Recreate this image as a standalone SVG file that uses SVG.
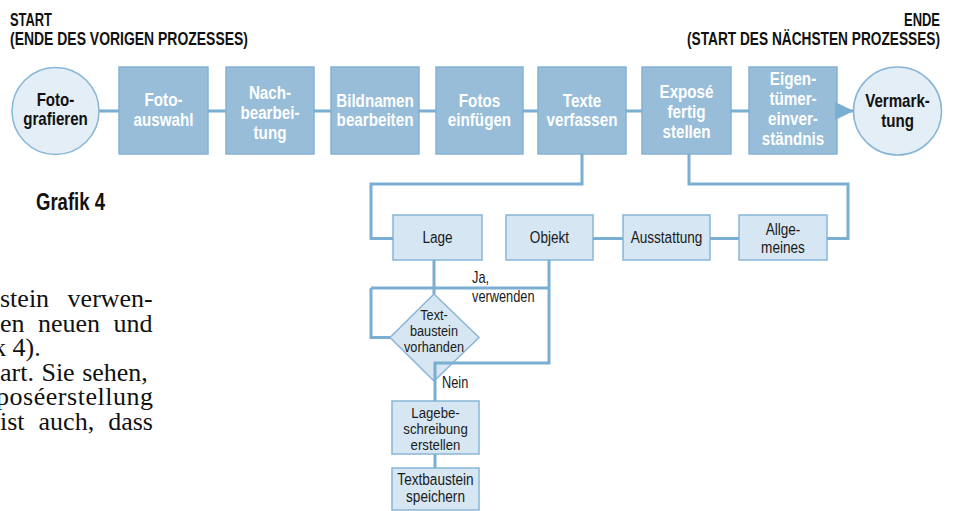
<svg xmlns="http://www.w3.org/2000/svg" width="958" height="511" viewBox="0 0 958 511">
<style>
.top{fill:#97bdd9;stroke:#85b2d3;stroke-width:1.5}
.low{fill:#d6e6f2;stroke:#88b6d6;stroke-width:1.5}
.circ{fill:#e4eef7;stroke:#88b6d6;stroke-width:1.5}
.con{fill:none;stroke:#7aaed3;stroke-width:3}
.tw{font-family:"Liberation Sans",Arial,sans-serif;font-weight:bold;font-size:19px;fill:#ffffff;text-anchor:middle}
.tb{font-family:"Liberation Sans",Arial,sans-serif;font-weight:bold;font-size:18px;fill:#111111;text-anchor:middle}
.tl{font-family:"Liberation Sans",Arial,sans-serif;font-size:17px;fill:#1a1a1a;text-anchor:middle}
.tm{font-family:"Liberation Sans",Arial,sans-serif;font-size:15.5px;fill:#1a1a1a;text-anchor:middle}
.ts{font-family:"Liberation Sans",Arial,sans-serif;font-size:16px;fill:#1a1a1a}
.hd{font-family:"Liberation Sans",Arial,sans-serif;font-weight:bold;font-size:19px;fill:#111111}
.body{font-family:"Liberation Serif","Times New Roman",serif;font-size:26px;fill:#111111}
</style>
<defs>
<marker id="arr" markerUnits="userSpaceOnUse" markerWidth="20" markerHeight="18" refX="19" refY="9" orient="auto">
<path d="M0,0 L19,9 L0,18 Z" fill="#7aaed3"/>
</marker>
</defs>

<g id="header">
<text class="hd" x="10" y="26" textLength="42" lengthAdjust="spacingAndGlyphs">START</text>
<text class="hd" x="10" y="45" textLength="238" lengthAdjust="spacingAndGlyphs">(ENDE DES VORIGEN PROZESSES)</text>
<text class="hd" x="904" y="26" textLength="36" lengthAdjust="spacingAndGlyphs">ENDE</text>
<text class="hd" x="687" y="45" textLength="253" lengthAdjust="spacingAndGlyphs">(START DES NÄCHSTEN PROZESSES)</text>
<text class="hd" x="36" y="210" style="font-size:24px" textLength="69" lengthAdjust="spacingAndGlyphs">Grafik 4</text>
</g>

<g id="bodytext">
<text class="body" x="0" y="307" style="word-spacing:12px">stein verwen-</text>
<text class="body" x="0" y="331.5" style="word-spacing:7px">en neuen und</text>
<text class="body" x="-7" y="356">k 4).</text>
<text class="body" x="0" y="380.5" style="word-spacing:1px">art. Sie sehen,</text>
<text class="body" x="-4" y="405" textLength="157" lengthAdjust="spacing">poséerstellung</text>
<text class="body" x="0" y="429.5" style="word-spacing:7.5px">ist auch, dass</text>
</g>

<g id="n-fotografieren">
<circle class="circ" cx="55.5" cy="111" r="43.5"/>
<text class="tb" transform="translate(55.5,0) scale(0.84,1)"><tspan x="0" y="106">Foto-</tspan><tspan x="0" y="125">grafieren</tspan></text>
</g>
<g id="n-fotoauswahl">
<rect class="top" x="119" y="67" width="89" height="87"/>
<text class="tw" transform="translate(163.5,0) scale(0.8,1)"><tspan x="0" y="106">Foto-</tspan><tspan x="0" y="126">auswahl</tspan></text>
</g>
<g id="n-nachbearbeitung">
<rect class="top" x="226" y="67" width="88" height="87"/>
<text class="tw" transform="translate(270,0) scale(0.8,1)"><tspan x="0" y="99">Nach-</tspan><tspan x="0" y="119">bearbei-</tspan><tspan x="0" y="139">tung</tspan></text>
</g>
<g id="n-bildnamen">
<rect class="top" x="331" y="67" width="88" height="87"/>
<text class="tw" transform="translate(375,0) scale(0.8,1)"><tspan x="0" y="107">Bildnamen</tspan><tspan x="0" y="126">bearbeiten</tspan></text>
</g>
<g id="n-fotoseinfuegen">
<rect class="top" x="436" y="67" width="87" height="87"/>
<text class="tw" transform="translate(479.5,0) scale(0.8,1)"><tspan x="0" y="107">Fotos</tspan><tspan x="0" y="126">einfügen</tspan></text>
</g>
<g id="n-texteverfassen">
<rect class="top" x="538" y="67" width="88" height="87"/>
<text class="tw" transform="translate(582,0) scale(0.8,1)"><tspan x="0" y="107">Texte</tspan><tspan x="0" y="126">verfassen</tspan></text>
</g>
<g id="n-expose">
<rect class="top" x="642" y="67" width="89" height="87"/>
<text class="tw" transform="translate(686.5,0) scale(0.8,1)"><tspan x="0" y="98">Exposé</tspan><tspan x="0" y="118">fertig</tspan><tspan x="0" y="138">stellen</tspan></text>
</g>
<g id="n-eigentuemer">
<rect class="top" x="749" y="67" width="88" height="87"/>
<text class="tw" transform="translate(793,0) scale(0.8,1)"><tspan x="0" y="85">Eigen-</tspan><tspan x="0" y="105">tümer-</tspan><tspan x="0" y="125">einver-</tspan><tspan x="0" y="145">ständnis</tspan></text>
</g>
<g id="n-vermarktung">
<circle class="circ" cx="897.5" cy="111" r="44"/>
<text class="tb" transform="translate(897.5,0) scale(0.84,1)"><tspan x="0" y="107">Vermark-</tspan><tspan x="0" y="127">tung</tspan></text>
</g>

<g id="n-lage">
<rect class="low" x="393" y="215" width="89" height="45"/>
<text class="tl" transform="translate(437.5,243) scale(0.8,1)">Lage</text>
</g>
<g id="n-objekt">
<rect class="low" x="506" y="215" width="87" height="45"/>
<text class="tl" transform="translate(549.5,243) scale(0.8,1)">Objekt</text>
</g>
<g id="n-ausstattung">
<rect class="low" x="623" y="215" width="87" height="45"/>
<text class="tl" transform="translate(666.5,243) scale(0.8,1)">Ausstattung</text>
</g>
<g id="n-allgemeines">
<rect class="low" x="739" y="215" width="88" height="45"/>
<text class="tl" transform="translate(783,0) scale(0.8,1)"><tspan x="0" y="235">Allge-</tspan><tspan x="0" y="253">meines</tspan></text>
</g>
<g id="n-textbaustein-vorhanden">
<polygon class="low" points="434,294 479,337.5 434,381 390,337.5"/>
<text class="tm" transform="translate(434,0) scale(0.82,1)"><tspan x="0" y="320">Text-</tspan><tspan x="0" y="336">baustein</tspan><tspan x="0" y="352">vorhanden</tspan></text>
</g>
<g id="n-lagebeschreibung">
<rect class="low" x="392" y="401" width="87" height="53"/>
<text class="tm" transform="translate(435.5,0) scale(0.85,1)"><tspan x="0" y="418">Lagebe-</tspan><tspan x="0" y="434">schreibung</tspan><tspan x="0" y="450">erstellen</tspan></text>
</g>
<g id="n-textbaustein-speichern">
<rect class="low" x="392" y="468" width="87" height="42"/>
<text class="tl" transform="translate(435.5,0) scale(0.8,1)"><tspan x="0" y="485">Textbaustein</tspan><tspan x="0" y="502">speichern</tspan></text>
</g>

<g id="connectors">
<path class="con" d="M99,111 H119 M208,111 H226 M314,111 H331 M419,111 H436 M523,111 H538 M626,111 H642 M731,111 H749"/>
<path class="con" d="M837,111 H854" marker-end="url(#arr)"/>
<path class="con" d="M582,154 V184 H371 V238.5 H393"/>
<path class="con" d="M689,154 V184 H848 V238.5 H827"/>
<path class="con" d="M593,238.5 H623 M710,238.5 H739"/>
<path class="con" d="M434,260 V294"/>
<path class="con" d="M371,288 H549 M549,260 V363 H435 V401"/>
<path class="con" d="M371,288 V337.5 H390"/>
<path class="con" d="M435,454 V468"/>
</g>

<g id="labels">
<text class="ts" transform="translate(472,283) scale(0.8,1)">Ja,</text>
<text class="ts" transform="translate(472,302) scale(0.8,1)">verwenden</text>
<text class="ts" transform="translate(442,388) scale(0.8,1)">Nein</text>
</g>
</svg>
